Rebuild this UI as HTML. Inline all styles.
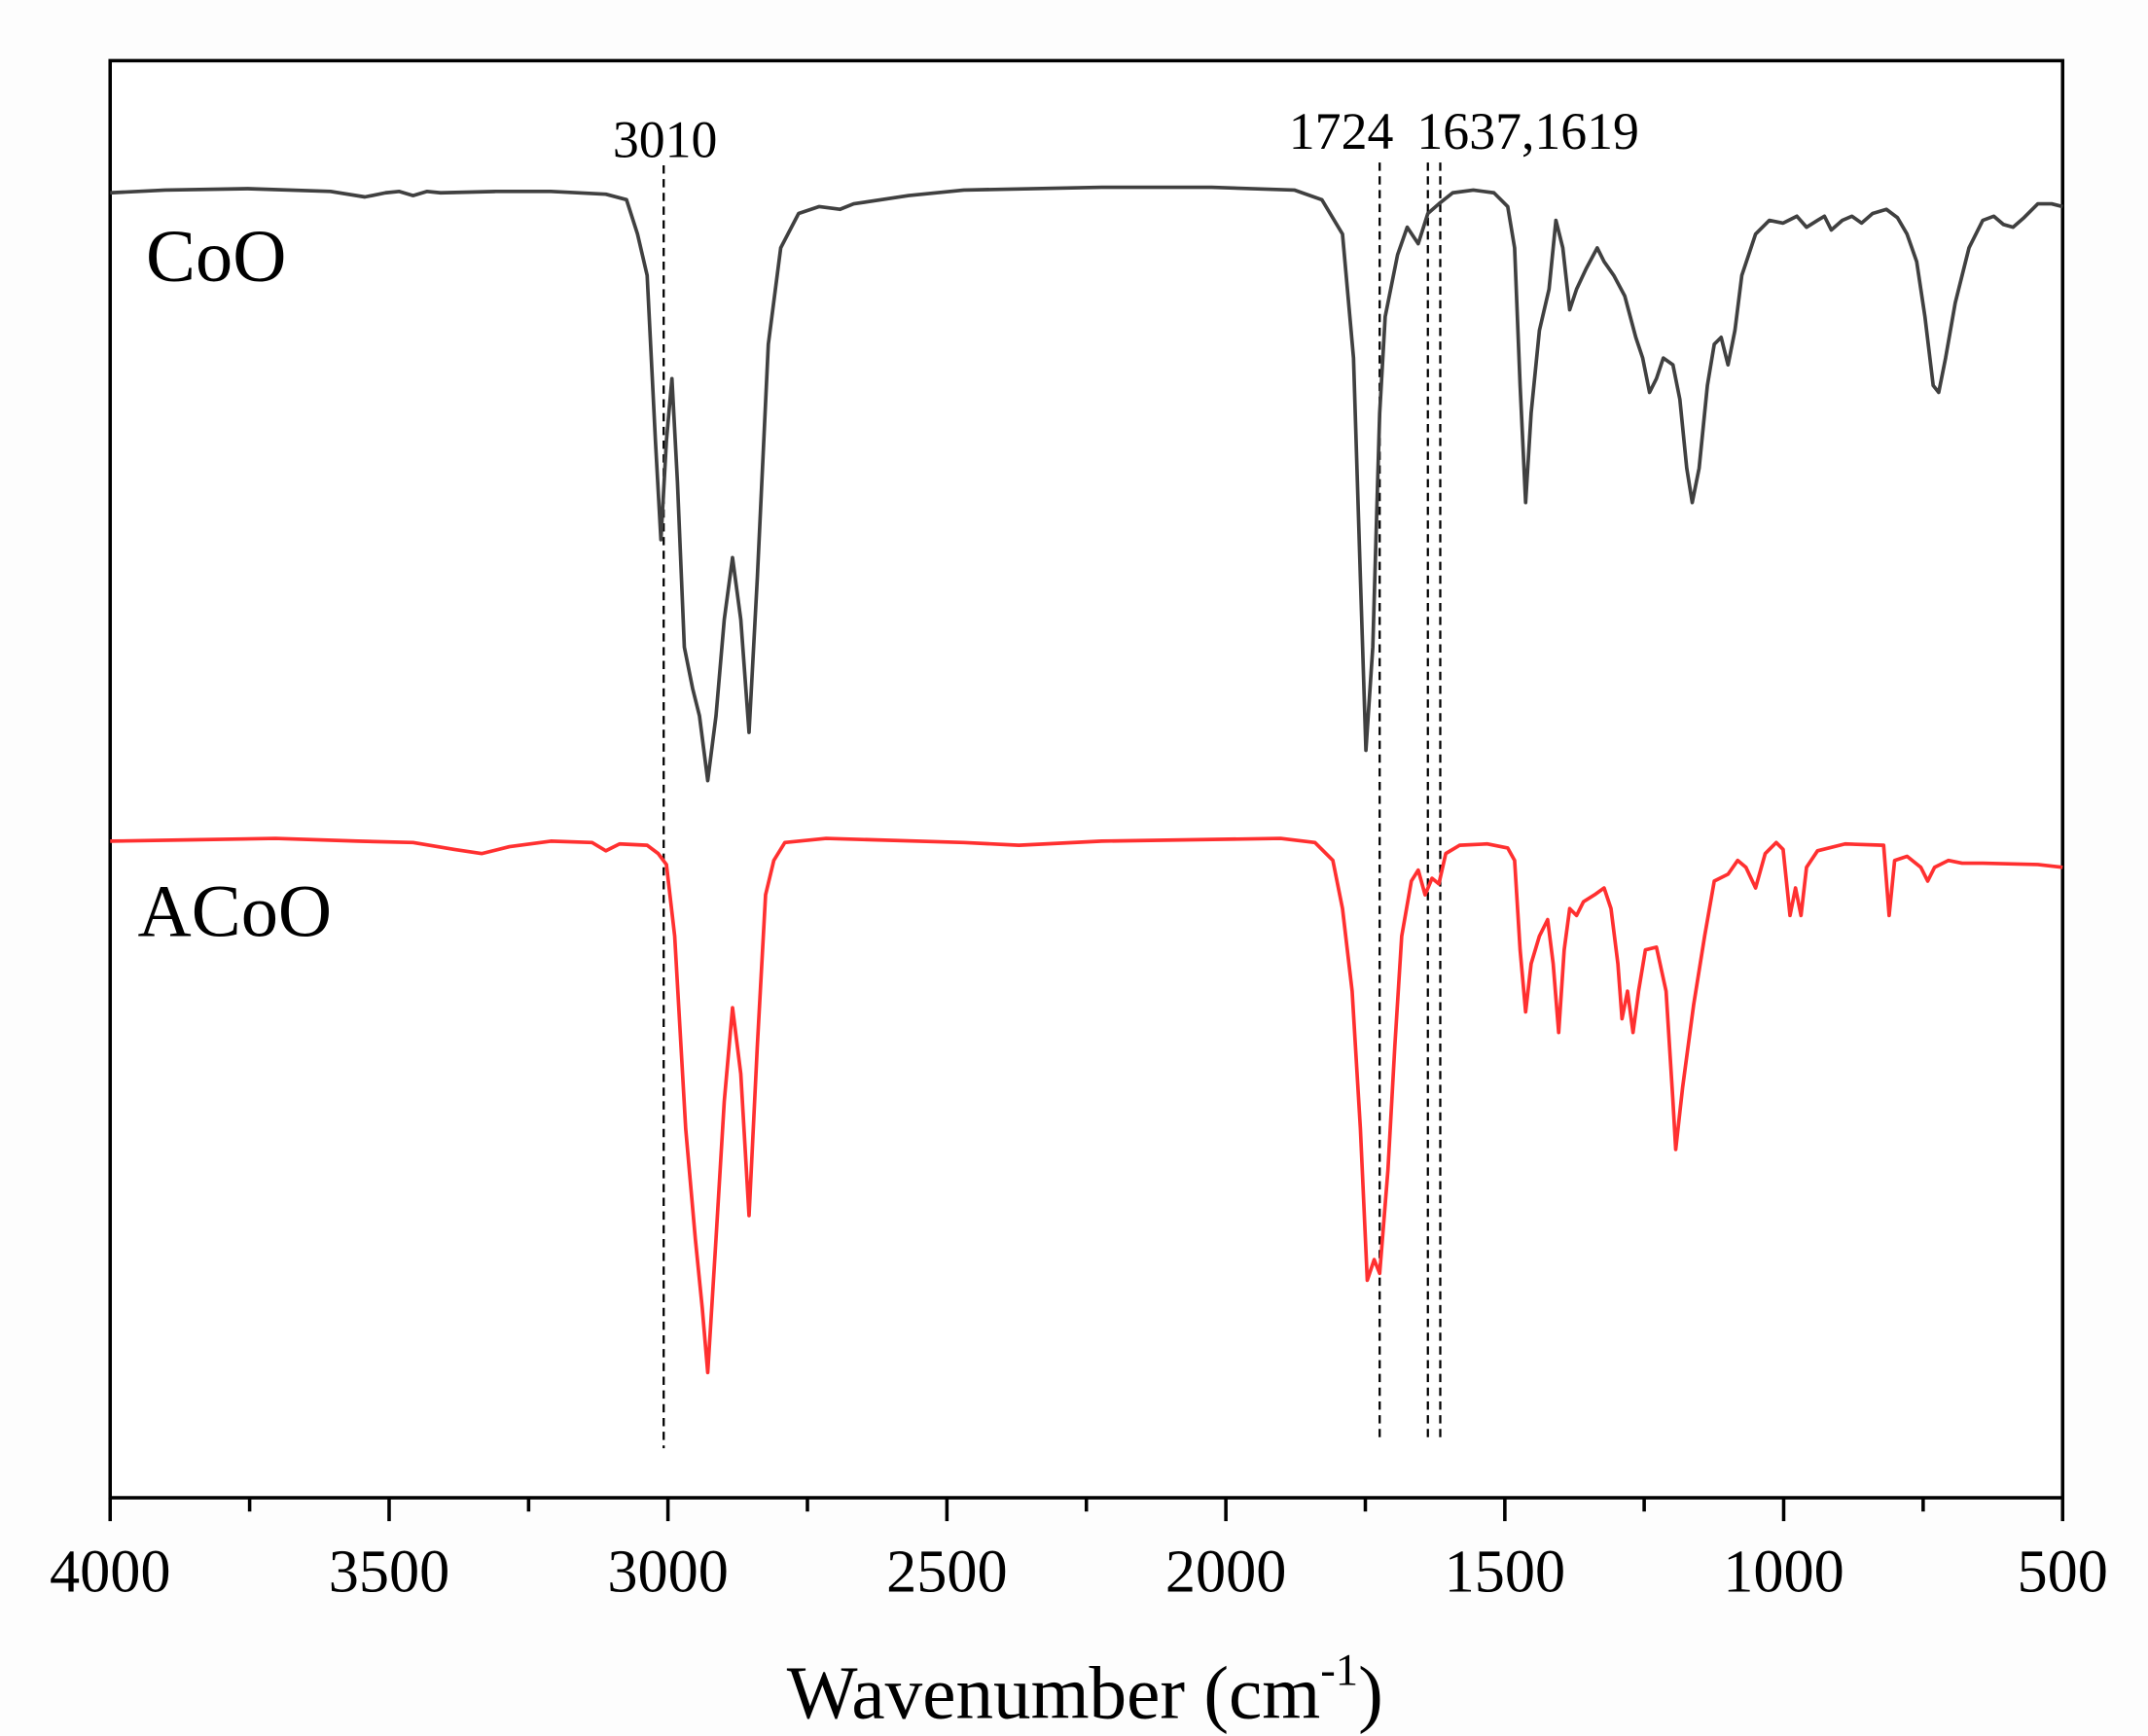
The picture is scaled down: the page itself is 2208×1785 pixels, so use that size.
<!DOCTYPE html>
<html><head><meta charset="utf-8"><style>html,body{margin:0;padding:0;background:#fff}svg{display:block}</style></head>
<body>
<svg width="2208" height="1785" viewBox="0 0 1560 1261" xmlns="http://www.w3.org/2000/svg" font-family="Liberation Serif, serif">
<rect x="0" y="0" width="1560" height="1261" fill="#fdfdfd"/>
<rect x="80" y="44" width="1418" height="1044" fill="#fff" stroke="#000" stroke-width="2.5"/>
<g stroke="#000" stroke-width="2.5">
<line x1="80" y1="1088" x2="80" y2="1105"/><line x1="282.6" y1="1088" x2="282.6" y2="1105"/><line x1="485.1" y1="1088" x2="485.1" y2="1105"/><line x1="687.7" y1="1088" x2="687.7" y2="1105"/><line x1="890.3" y1="1088" x2="890.3" y2="1105"/><line x1="1092.9" y1="1088" x2="1092.9" y2="1105"/><line x1="1295.4" y1="1088" x2="1295.4" y2="1105"/><line x1="1498" y1="1088" x2="1498" y2="1105"/>
<line x1="181.3" y1="1088" x2="181.3" y2="1098"/><line x1="383.9" y1="1088" x2="383.9" y2="1098"/><line x1="586.4" y1="1088" x2="586.4" y2="1098"/><line x1="789" y1="1088" x2="789" y2="1098"/><line x1="991.6" y1="1088" x2="991.6" y2="1098"/><line x1="1194.1" y1="1088" x2="1194.1" y2="1098"/><line x1="1396.7" y1="1088" x2="1396.7" y2="1098"/>
</g>
<g font-size="44" text-anchor="middle" fill="#000">
<text x="80" y="1156">4000</text><text x="282.6" y="1156">3500</text><text x="485.1" y="1156">3000</text><text x="687.7" y="1156">2500</text><text x="890.3" y="1156">2000</text><text x="1092.9" y="1156">1500</text><text x="1295.4" y="1156">1000</text><text x="1498" y="1156">500</text>
</g>
<text x="788" y="1248" font-size="54.5" text-anchor="middle">Wavenumber (cm<tspan font-size="33" dy="-24">-1</tspan><tspan dy="24">)</tspan></text>
<text x="106" y="204" font-size="54">CoO</text>
<text x="100" y="680" font-size="54">ACoO</text>
<g font-size="38" fill="#000">
<text x="483" y="114" text-anchor="middle">3010</text>
<text x="936" y="108">1724</text>
<text x="1029" y="108">1637,1619</text>
</g>
<g stroke="#000" stroke-width="1.6" stroke-dasharray="6,4">
<line x1="482" y1="120" x2="482" y2="1052"/>
<line x1="1002" y1="118" x2="1002" y2="1045"/>
<line x1="1037" y1="118" x2="1037" y2="1045"/>
<line x1="1046" y1="118" x2="1046" y2="1045"/>
</g>
<polyline fill="none" stroke="#404040" stroke-width="2.6" stroke-linejoin="round" points="80,140 120,138 180,137 240,139 265,143 280,140 290,139 300,142 310,139 320,140 360,139 400,139 440,141 455,145 463,170 470,200 476,320 480,392 484,320 488,275 492,350 497,470 503,500 508,520 514,567 520,520 526,450 532,405 538,450 544,532 550,420 558,250 567,180 580,155 595,150 610,152 620,148 660,142 700,138 800,136 880,136 940,138 960,145 975,170 983,260 988,420 992,545 997,470 1002,300 1006,230 1015,185 1022,165 1030,177 1037,155 1045,148 1055,140 1070,138 1085,140 1095,150 1100,180 1104,280 1108,365 1112,300 1118,240 1125,210 1130,160 1135,180 1140,225 1145,210 1152,195 1160,180 1165,190 1172,200 1180,215 1188,245 1193,260 1198,285 1203,275 1208,260 1215,265 1220,290 1225,340 1229,365 1234,340 1240,280 1245,250 1250,245 1255,265 1260,240 1265,200 1275,170 1285,160 1295,162 1305,157 1312,165 1320,160 1325,157 1330,167 1338,160 1345,157 1352,162 1360,155 1370,152 1378,158 1385,170 1392,190 1398,230 1404,280 1408,285 1413,260 1420,220 1430,180 1440,160 1448,157 1455,163 1462,165 1470,158 1480,148 1490,148 1498,150"/>
<polyline fill="none" stroke="#ff3030" stroke-width="2.6" stroke-linejoin="round" points="80,611 140,610 200,609 260,611 300,612 330,617 350,620 370,615 400,611 430,612 440,618 450,613 470,614 478,620 484,628 490,680 498,820 505,900 510,950 514,997 520,900 526,800 532,732 538,780 544,883 550,760 556,650 562,625 570,612 600,609 700,612 740,614 800,611 930,609 955,612 968,625 975,660 982,720 988,820 993,930 998,915 1002,925 1008,850 1013,760 1018,680 1025,640 1030,632 1035,650 1040,638 1045,642 1050,620 1060,614 1080,613 1095,616 1100,625 1104,690 1108,735 1112,700 1118,680 1124,668 1128,700 1132,750 1136,690 1140,660 1145,665 1150,655 1158,650 1165,645 1170,660 1175,700 1178,740 1182,720 1186,750 1190,720 1195,690 1203,688 1210,720 1215,800 1217,835 1222,790 1230,730 1238,680 1245,640 1255,635 1262,625 1268,630 1275,645 1282,620 1290,612 1295,617 1300,665 1304,645 1308,665 1312,630 1320,618 1340,613 1368,614 1372,665 1376,625 1385,622 1395,630 1400,640 1405,630 1415,625 1425,627 1440,627 1480,628 1498,630"/>
</svg>
</body></html>
